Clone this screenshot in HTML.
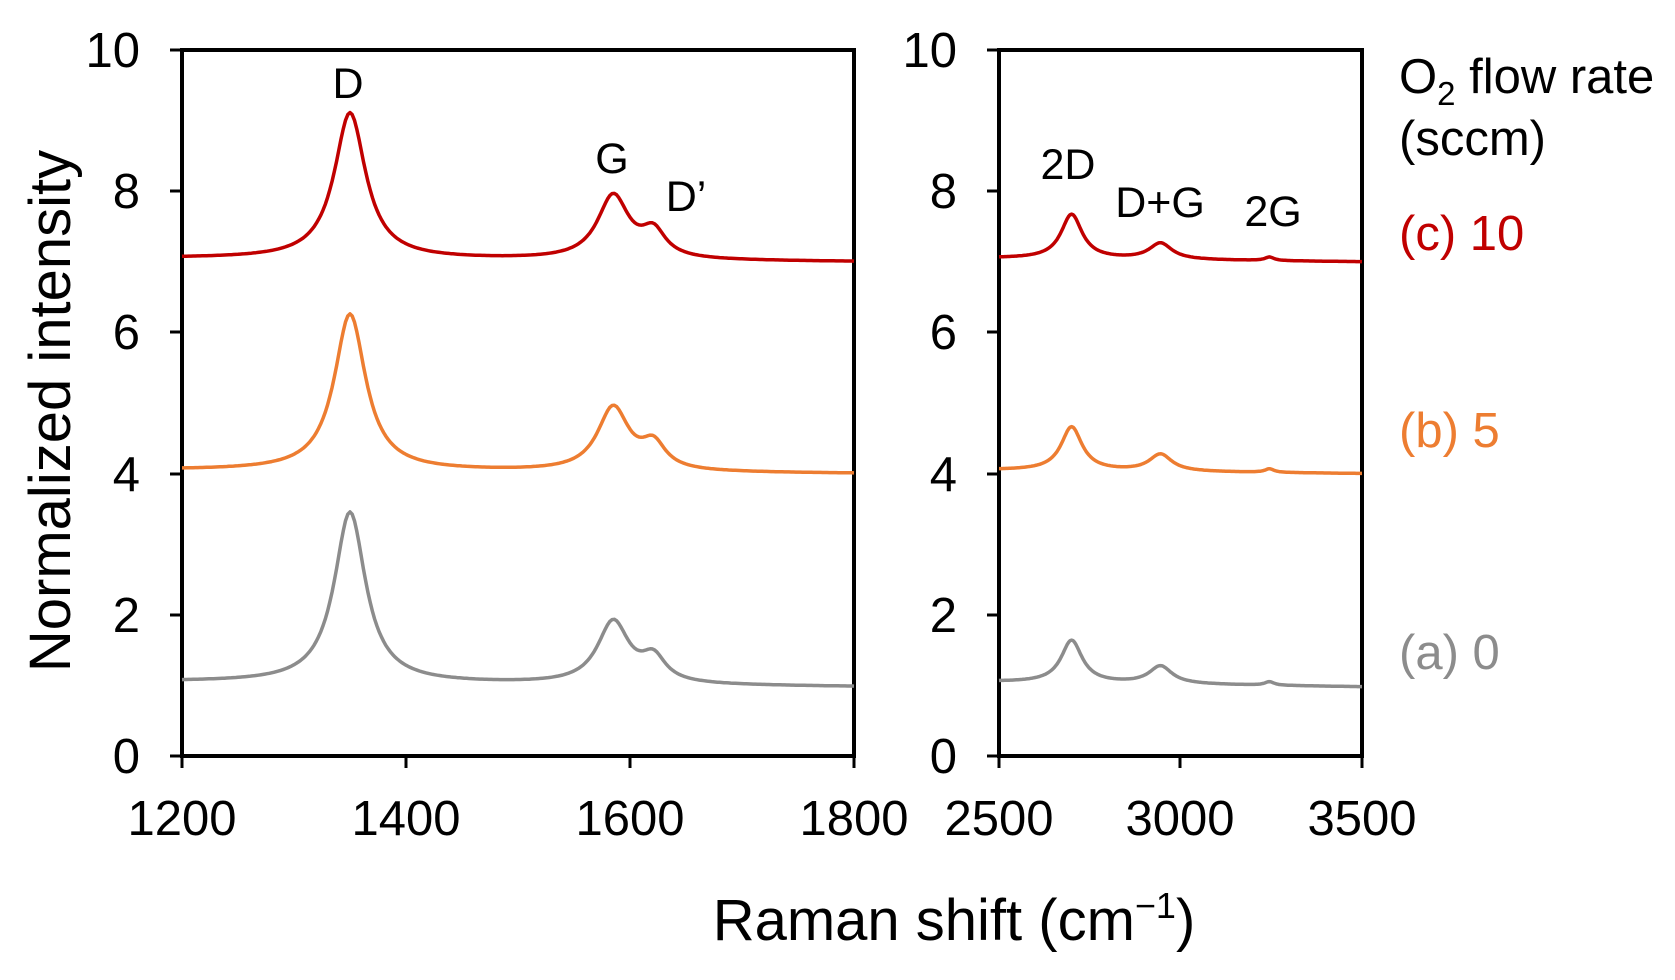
<!DOCTYPE html>
<html><head><meta charset="utf-8"><style>
html,body{margin:0;padding:0;background:#fff;}
svg{display:block;font-family:"Liberation Sans",Arial,sans-serif;}
</style></head><body>
<svg id="s" width="1675" height="980" viewBox="0 0 1675 980" xmlns="http://www.w3.org/2000/svg">
<g fill="none" stroke="#000" stroke-width="4">
<rect x="182" y="50" width="672" height="706"/>
<rect x="999" y="50" width="363" height="706"/>
</g>
<g stroke="#000" stroke-width="3">
<line x1="170" y1="50" x2="182" y2="50"/><line x1="170" y1="191" x2="182" y2="191"/><line x1="170" y1="332" x2="182" y2="332"/><line x1="170" y1="474" x2="182" y2="474"/><line x1="170" y1="615" x2="182" y2="615"/><line x1="170" y1="756" x2="182" y2="756"/>
<line x1="987" y1="50" x2="999" y2="50"/><line x1="987" y1="191" x2="999" y2="191"/><line x1="987" y1="332" x2="999" y2="332"/><line x1="987" y1="474" x2="999" y2="474"/><line x1="987" y1="615" x2="999" y2="615"/><line x1="987" y1="756" x2="999" y2="756"/>
<line x1="182" y1="756" x2="182" y2="768"/><line x1="406" y1="756" x2="406" y2="768"/><line x1="630" y1="756" x2="630" y2="768"/><line x1="854" y1="756" x2="854" y2="768"/>
<line x1="999" y1="756" x2="999" y2="768"/><line x1="1180" y1="756" x2="1180" y2="768"/><line x1="1362" y1="756" x2="1362" y2="768"/>
</g>
<g font-size="49" text-anchor="end" fill="#000">
<text x="140" y="67">10</text><text x="140" y="208">8</text><text x="140" y="349">6</text><text x="140" y="491">4</text><text x="140" y="632">2</text><text x="140" y="773">0</text>
<text x="957" y="67">10</text><text x="957" y="208">8</text><text x="957" y="349">6</text><text x="957" y="491">4</text><text x="957" y="632">2</text><text x="957" y="773">0</text>
</g>
<g font-size="49" text-anchor="middle" fill="#000">
<text x="182" y="835">1200</text><text x="406" y="835">1400</text><text x="630" y="835">1600</text><text x="854" y="835">1800</text>
<text x="999" y="835">2500</text><text x="1180" y="835">3000</text><text x="1362" y="835">3500</text>
</g>
<text x="954" y="940" font-size="58" text-anchor="middle">Raman shift (cm<tspan dy="-22" font-size="36">−1</tspan><tspan dy="22">)</tspan></text>
<text transform="translate(70,411) rotate(-90)" font-size="58" text-anchor="middle">Normalized intensity</text>
<g font-size="43" text-anchor="middle" fill="#000">
<text x="348" y="98">D</text><text x="612" y="173">G</text><text x="686" y="211">D’</text>
<text x="1068" y="179">2D</text><text x="1160" y="217">D+G</text><text x="1273" y="226">2G</text>
</g>
<g font-size="49" fill="#000">
<text x="1399" y="93">O<tspan dy="12" font-size="33">2</tspan><tspan dy="-12"> flow rate</tspan></text>
<text x="1399" y="155">(sccm)</text>
<text x="1399" y="250" fill="#c00000">(c) 10</text>
<text x="1399" y="447" fill="#ed7d31">(b) 5</text>
<text x="1399" y="669" fill="#8c8c8c">(a) 0</text>
</g>
<g id="curves" fill="none" stroke-width="3.5" stroke-linejoin="round"></g>
<script>
(function(){
var g=document.getElementById('curves');
function L(x,c,w,a){var t=(x-c)/w;return a/(1+t*t);}
var ys=function(v){return 756-v*70.6;};
var sets=[{c:'#8c8c8c',b0:1.05,b1:0.98,D:2.42,G:0.88,Dp:0.34,D2:0.6,DG:0.25,G2:0.05},
{c:'#ed7d31',b0:4.05,b1:4.0,D:2.22,G:0.9,Dp:0.35,D2:0.62,DG:0.24,G2:0.05},
{c:'#c00000',b0:7.05,b1:7.0,D:2.07,G:0.9,Dp:0.36,D2:0.63,DG:0.23,G2:0.05}];
sets.forEach(function(s){
 var d='';
 for(var x=1200;x<=1800;x+=2){
  var v=s.b0+(s.b1-s.b0)*(x-1200)/600+L(x,1350,17,s.D)+L(x,1585,17,s.G)+L(x,1621,13,s.Dp);
  var px=182+(x-1200)*672/600;
  d+=(x==1200?'M':'L')+px.toFixed(1)+' '+ys(v).toFixed(1);
 }
 var p=document.createElementNS('http://www.w3.org/2000/svg','path');p.setAttribute('d',d);p.setAttribute('stroke',s.c);g.appendChild(p);
 d='';
 for(var x=2500;x<=3500;x+=4){
  var v=s.b0+(s.b1-s.b0)*(x-2500)/1000+L(x,2700,35,s.D2)+L(x,2945,38,s.DG)+L(x,3245,15,s.G2);
  var px=999+(x-2500)*363/1000;
  d+=(x==2500?'M':'L')+px.toFixed(1)+' '+ys(v).toFixed(1);
 }
 p=document.createElementNS('http://www.w3.org/2000/svg','path');p.setAttribute('d',d);p.setAttribute('stroke',s.c);g.appendChild(p);
});
})();
</script>
</svg>
</body></html>
